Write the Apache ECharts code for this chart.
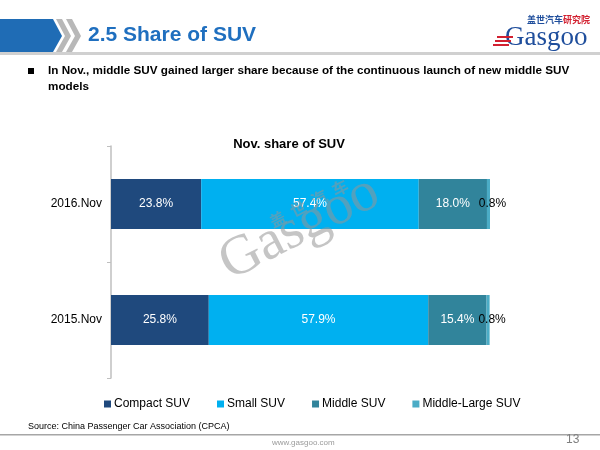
<!DOCTYPE html>
<html><head><meta charset="utf-8">
<script src="https://cdn.jsdelivr.net/npm/echarts@6/dist/echarts.min.js"></script>
<style>html,body{margin:0;padding:0;background:#fff}#c{width:600px;height:450px}</style>
</head><body><div id="c"></div>
<script>
const categories = ['2015.Nov', '2016.Nov'];
const seriesNames = ['Compact SUV', 'Small SUV', 'Middle SUV', 'Middle-Large SUV'];
const compactSUV = [25.8, 23.8];
const smallSUV = [57.9, 57.4];
const middleSUV = [15.4, 18.0];
const middleLargeSUV = [0.8, 0.8];
const colors = ['#1f497d', '#00b0f0', '#31849b', '#4bacc6'];

const chart = echarts.init(document.getElementById('c'), null, {renderer: 'canvas'});
const F = '"Liberation Sans", Arial, sans-serif';
const values = [compactSUV, smallSUV, middleSUV, middleLargeSUV];
const series = values.map((v, i) => ({
  name: seriesNames[i], type: 'bar', stack: 'total', barWidth: 50, data: v,
  itemStyle: {color: colors[i]},
  label: i < 3 ? {show: true, position: 'inside', color: '#fff', fontSize: 12, fontFamily: F,
                  formatter: p => p.value.toFixed(1) + '%'}
               : {show: true, position: 'inside', offset: [4, 0], color: '#000', fontSize: 12, fontFamily: F,
                  formatter: p => p.value.toFixed(1) + '%'}
}));

const wm = 'rgba(150,150,150,0.55)';
chart.setOption({
  animation: false,
  title: {text: 'Nov. share of SUV', left: 284, textAlign: 'center', top: 133,
          textStyle: {fontSize: 13, fontWeight: 'bold', color: '#000', fontFamily: F}},
  legend: {data: seriesNames, left: 99, top: 393, icon: 'rect', itemWidth: 7, itemHeight: 7, itemGap: 27,
           itemStyle: {borderWidth: 0},
           textStyle: {fontSize: 12, color: '#000', fontFamily: F, padding: [0, 0, 0, -2]}},
  grid: {left: 111, right: 110, top: 146, bottom: 72},
  xAxis: {type: 'value', min: 0, max: 100, show: false},
  yAxis: {type: 'category', data: categories,
          axisLine: {lineStyle: {color: '#bfbfbf', width: 1.5}},
          axisTick: {show: true, length: 4, lineStyle: {color: '#bfbfbf'}},
          axisLabel: {color: '#000', fontSize: 12, fontFamily: F, margin: 9}},
  series: series,
  graphic: [
    {type: 'polygon', shape: {points: [[0,19],[53,19],[62,36],[53,52],[0,52]]}, style: {fill: '#1f6cb5'}},
    {type: 'polygon', shape: {points: [[56,19],[62,19],[71,36],[62,52],[56,52],[65,36]]}, style: {fill: '#b8b8b8'}},
    {type: 'polygon', shape: {points: [[66,19],[72,19],[81,36],[72,52],[66,52],[75,36]]}, style: {fill: '#b8b8b8'}},
    {type: 'rect', shape: {x: 0, y: 52, width: 600, height: 3}, style: {fill: '#d0d0d0'}},
    {type: 'text', left: 88, top: 25, style: {text: '2.5 Share of SUV', fill: '#1f6fbf', font: 'bold 21px ' + F}},
    {type: 'text', left: 527, top: 15, style: {text: '盖世汽车', fill: '#1f4e9c', font: 'bold 9px "Noto Sans CJK SC"'}},
    {type: 'text', left: 563, top: 15, style: {text: '研究院', fill: '#d22030', font: 'bold 9px "Noto Sans CJK SC"'}},
    {type: 'text', left: 505, top: 24, style: {text: 'Gasgoo', fill: '#1f4e9c', font: '27px "Liberation Serif", serif'}},
    {type: 'rect', shape: {x: 497, y: 36, width: 16, height: 2}, style: {fill: '#d22030'}},
    {type: 'rect', shape: {x: 495, y: 40, width: 16, height: 2}, style: {fill: '#d22030'}},
    {type: 'rect', shape: {x: 493, y: 44, width: 16, height: 2}, style: {fill: '#d22030'}},
    {type: 'rect', shape: {x: 28, y: 68, width: 6, height: 6}, style: {fill: '#000'}},
    {type: 'text', left: 48, top: 65, style: {text: 'In Nov., middle SUV gained larger share because of the continuous launch of new middle SUV', fill: '#000', font: 'bold 11.7px ' + F}},
    {type: 'text', left: 48, top: 81, style: {text: 'models', fill: '#000', font: 'bold 11.7px ' + F}},
    {type: 'group', x: 236, y: 292, rotation: 0.47, z: 100, children: [
      {type: 'text', x: 0, y: 0, z: 100, style: {text: 'Gasgoo', fill: wm, font: '56px "Liberation Serif", serif', verticalAlign: 'bottom'}},
      {type: 'text', x: 62, y: -38, z: 100, style: {text: '盖  世  汽  车', fill: wm, font: 'bold 16px "Noto Sans CJK SC"', verticalAlign: 'bottom'}}
    ]},
    {type: 'text', left: 28, top: 422, style: {text: 'Source: China Passenger Car Association (CPCA)', fill: '#000', font: '9px ' + F}},
    {type: 'rect', shape: {x: 0, y: 434, width: 600, height: 1.5}, style: {fill: '#a6a6a6'}},
    {type: 'text', left: 272, top: 439, style: {text: 'www.gasgoo.com', fill: '#9a9a9a', font: '8px ' + F}},
    {type: 'text', left: 566, top: 434, style: {text: '13', fill: '#808080', font: '12px ' + F}}
  ]
});
</script></body></html>
